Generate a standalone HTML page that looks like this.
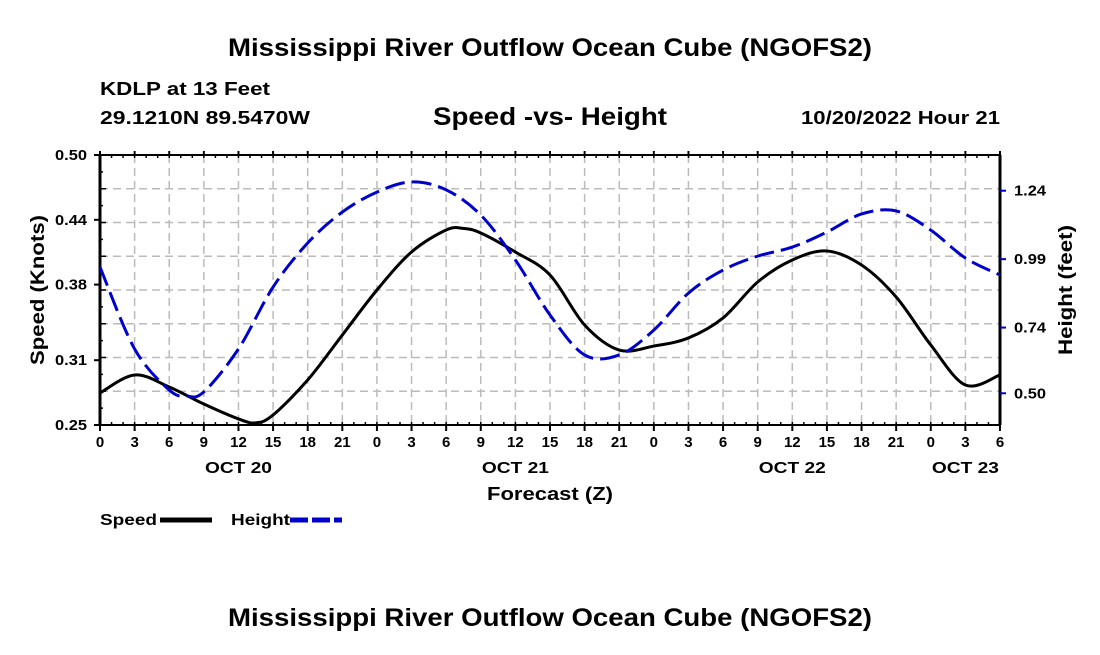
<!DOCTYPE html>
<html><head><meta charset="utf-8"><style>
body{margin:0;background:#fff;}
svg text{font-family:"Liberation Sans",Arial,sans-serif;font-weight:bold;fill:#000;}
</style></head><body>
<svg id="chart" width="1100" height="650" xmlns="http://www.w3.org/2000/svg">
<text x="228" y="56" font-size="25" textLength="644" lengthAdjust="spacingAndGlyphs">Mississippi River Outflow Ocean Cube (NGOFS2)</text>
<text x="100" y="95" font-size="18" textLength="170" lengthAdjust="spacingAndGlyphs">KDLP at 13 Feet</text>
<text x="100" y="124" font-size="18" textLength="210" lengthAdjust="spacingAndGlyphs">29.1210N  89.5470W</text>
<text x="433" y="125" font-size="25" textLength="234" lengthAdjust="spacingAndGlyphs">Speed -vs- Height</text>
<text x="801" y="124" font-size="18" textLength="199" lengthAdjust="spacingAndGlyphs">10/20/2022 Hour 21</text>
<g id="grid"></g>
<g id="axes"></g>
<g id="series"></g>
<text transform="translate(44,290) rotate(-90)" font-size="19" text-anchor="middle" textLength="150" lengthAdjust="spacingAndGlyphs">Speed (Knots)</text>
<text transform="translate(1072,290) rotate(-90)" font-size="19" text-anchor="middle" textLength="130" lengthAdjust="spacingAndGlyphs">Height (feet)</text>
<text x="487" y="500" font-size="18" textLength="126" lengthAdjust="spacingAndGlyphs">Forecast (Z)</text>
<g>
<text x="100" y="525" font-size="16" textLength="57" lengthAdjust="spacingAndGlyphs">Speed</text>
<line x1="160" y1="520" x2="212" y2="520" stroke="#000" stroke-width="5"/>
<text x="231" y="525" font-size="16" textLength="59" lengthAdjust="spacingAndGlyphs">Height</text>
<line x1="290" y1="520" x2="342" y2="520" stroke="#0000cc" stroke-width="5" stroke-dasharray="18,4"/>
</g>
<text x="228" y="626" font-size="25" textLength="644" lengthAdjust="spacingAndGlyphs">Mississippi River Outflow Ocean Cube (NGOFS2)</text>
</svg>
<script>
const speedHours=[0,3,6,9,12,13.5,15,18,21,24,27,30,31.5,33,36,39,42,45,48,51,54,57,60,63,66,69,72,75,78];
const speedValues=[0.2796,0.2963,0.2852,0.2694,0.2556,0.252,0.2593,0.2917,0.3333,0.375,0.4102,0.4306,0.432,0.4278,0.4102,0.3889,0.3426,0.3194,0.3231,0.3306,0.3491,0.3824,0.4028,0.4111,0.3981,0.3685,0.3241,0.287,0.2963];
const heightHours=[0,3,6,7.5,9,12,15,18,21,24,27,30,33,36,39,42,45,48,51,54,57,60,63,66,69,72,75,78];
const heightValues=[0.961,0.662,0.512,0.49,0.505,0.662,0.888,1.049,1.162,1.235,1.272,1.243,1.151,0.987,0.786,0.640,0.640,0.731,0.866,0.950,1.001,1.034,1.089,1.155,1.166,1.096,0.994,0.932];
const xTickLabels=["0","3","6","9","12","15","18","21","0","3","6","9","12","15","18","21","0","3","6","9","12","15","18","21","0","3","6"];
const dateLabels=["OCT 20","OCT 21","OCT 22","OCT 23"];
const dateHours=[12,36,60,75];
const leftTicks=[0.25,0.31,0.38,0.44,0.50];
const rightTicks=[0.50,0.74,0.99,1.24];

const NS="http://www.w3.org/2000/svg";
const L=100,R=1000,T=155,B=425;
const X=h=>L+(h/78)*(R-L);
const YS=v=>B-(v-0.25)/0.25*(B-T);
const YH=v=>190.7+(1.24-v)/0.003653;
function mk(tag,attrs,parent){const e=document.createElementNS(NS,tag);for(const k in attrs)e.setAttribute(k,attrs[k]);parent.appendChild(e);return e;}
const grid=document.getElementById('grid'),axes=document.getElementById('axes'),series=document.getElementById('series');
for(let i=1;i<26;i++){const x=X(i*3);
 const g=mk('line',{x1:x,y1:T,x2:x,y2:B,stroke:'#bbb','stroke-width':1.5,'stroke-dasharray':'8,5'},grid);
 
 }
for(let i=1;i<8;i++){const y=T+i*(B-T)/8;
 const g=mk('line',{x1:L,y1:y,x2:R,y2:y,stroke:'#bbb','stroke-width':1.5,'stroke-dasharray':'8,5'},grid);
 
 }
[[L,T,L,B,3],[R,T,R,B,3],[L,T,R,T,2],[L,B,R,B,2]].forEach(a=>{mk('line',{x1:a[0],y1:a[1],x2:a[2],y2:a[3],stroke:'#000','stroke-width':a[4]},axes);});
for(let h=0;h<=78;h+=1){const x=X(h);mk('line',{x1:x,y1:T,x2:x,y2:T+3,stroke:'#000','stroke-width':1.5},axes);mk('line',{x1:x,y1:B,x2:x,y2:B-3,stroke:'#000','stroke-width':1.5},axes);}
xTickLabels.forEach((t,i)=>{const x=X(i*3);
 mk('line',{x1:x,y1:B,x2:x,y2:B+6,stroke:'#000','stroke-width':2},axes);
 mk('line',{x1:x,y1:T,x2:x,y2:T-4,stroke:'#000','stroke-width':2},axes);
 const tx=mk('text',{x:x,y:B+22,'font-size':15,'text-anchor':'middle'},axes);tx.textContent=t;
 
 });
dateLabels.forEach((t,i)=>{const tx=mk('text',{x:X(dateHours[i]),y:B+48,'font-size':16,'text-anchor':'middle',textLength:67,lengthAdjust:'spacingAndGlyphs'},axes);tx.textContent=t;
 
 });
for(let i=0;i<=16;i++){const y=T+i*(B-T)/16;mk('line',{x1:L,y1:y,x2:L+(i%2?3:6),y2:y,stroke:'#000','stroke-width':1.5},axes);}
leftTicks.forEach(v=>{const y=YS(v);mk('line',{x1:L-6,y1:y,x2:L,y2:y,stroke:'#000','stroke-width':2},axes);
 const tx=mk('text',{x:L-45,y:y+5,'font-size':15,textLength:32,lengthAdjust:'spacingAndGlyphs'},axes);tx.textContent=v.toFixed(2);
 
 });
rightTicks.forEach(v=>{const y=YH(v);mk('line',{x1:R,y1:y,x2:R+6,y2:y,stroke:'#0000cc','stroke-width':2},axes);
 const tx=mk('text',{x:R+14,y:y+5,'font-size':15,textLength:32,lengthAdjust:'spacingAndGlyphs'},axes);tx.textContent=v.toFixed(2);
 
 });
function path(xs,ys){const p=xs.map((h,i)=>[X(h),ys[i]]);let d=`M${p[0][0]},${p[0][1]}`;
 for(let i=0;i<p.length-1;i++){const p0=p[Math.max(0,i-1)],p1=p[i],p2=p[i+1],p3=p[Math.min(p.length-1,i+2)];
  const c1=[p1[0]+(p2[0]-p0[0])/6,p1[1]+(p2[1]-p0[1])/6],c2=[p2[0]-(p3[0]-p1[0])/6,p2[1]-(p3[1]-p1[1])/6];
  d+=` C${c1[0]},${c1[1]} ${c2[0]},${c2[1]} ${p2[0]},${p2[1]}`;}return d;}
const sp=mk('path',{d:path(speedHours,speedValues.map(YS)),fill:'none',stroke:'#000','stroke-width':3},series);


const hp=mk('path',{d:path(heightHours,heightValues.map(YH)),fill:'none',stroke:'#0000cc','stroke-width':3,'stroke-dasharray':'20,7'},series);


</script>
</body></html>
